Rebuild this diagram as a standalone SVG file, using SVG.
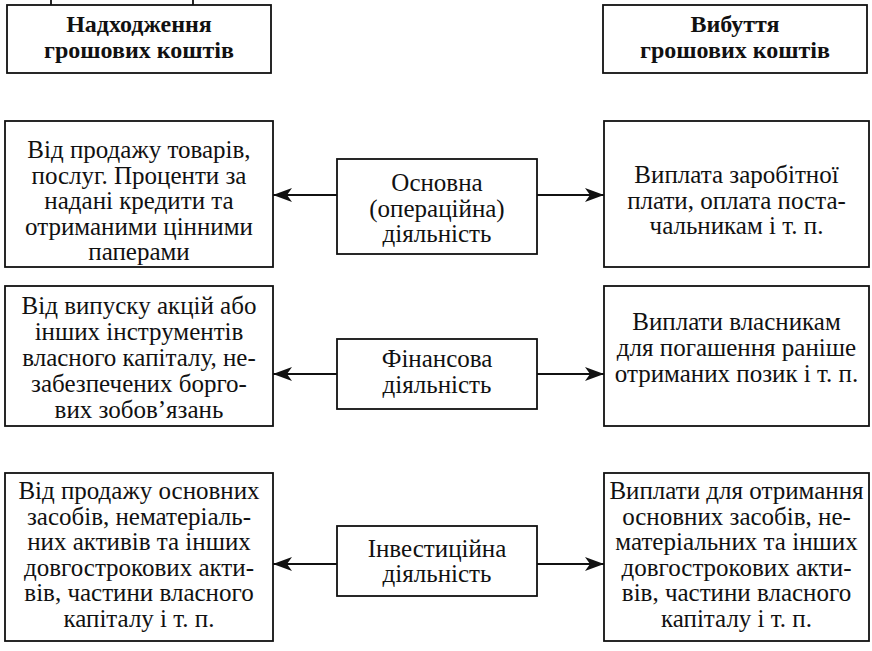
<svg xmlns="http://www.w3.org/2000/svg" width="872" height="651" viewBox="0 0 872 651">
<defs>
<marker id="ah" viewBox="0 0 19 14" refX="19" refY="7" markerWidth="19" markerHeight="14" markerUnits="userSpaceOnUse" orient="auto">
<path d="M0,0 L19,7 L0,14 L5,7 Z" fill="#111"/>
</marker>
<style>
rect{fill:#fff;stroke:#111;stroke-width:1.8}
text{font-size:25px;fill:#111;text-anchor:middle}
.h{font-weight:bold;font-size:24px}
.c line{stroke:#111;stroke-width:1.8}
</style>
</defs>
<rect width="872" height="651" style="stroke:none"/>
<g id="top-lines" class="c">
<line x1="51" y1="0" x2="51" y2="5"/>
<line x1="193" y1="0" x2="193" y2="5"/>
</g>
<g font-family="Liberation Serif, Times New Roman, DejaVu Serif, serif">
<g id="h-in">
<rect x="7" y="5" width="264" height="68"/>
<text class="h" x="139" y="32">Надходження</text>
<text class="h" x="139" y="58">грошових коштів</text>
</g>
<g id="h-out">
<rect x="603" y="5" width="264" height="68"/>
<text class="h" x="735" y="32">Вибуття</text>
<text class="h" x="735" y="58">грошових коштів</text>
</g>
<g id="in1">
<rect x="5" y="121" width="268" height="146"/>
<text x="139" y="158">Від продажу товарів,</text>
<text x="139" y="183.5">послуг. Проценти за</text>
<text x="139" y="209">надані кредити та</text>
<text x="139" y="234.5">отриманими цінними</text>
<text x="139" y="260">паперами</text>
</g>
<g id="op">
<rect x="337" y="159" width="200" height="95"/>
<text x="437" y="191">Основна</text>
<text x="437" y="216.5">(операційна)</text>
<text x="437" y="242">діяльність</text>
</g>
<g id="out1">
<rect x="604" y="121" width="265" height="146"/>
<text x="736.5" y="183">Виплата заробітної</text>
<text x="736.5" y="208.5">плати, оплата поста-</text>
<text x="736.5" y="234">чальникам і т. п.</text>
</g>
<g id="in2">
<rect x="5" y="286" width="268" height="140"/>
<text x="139" y="314">Від випуску акцій або</text>
<text x="139" y="340">інших інструментів</text>
<text x="139" y="366">власного капіталу, не-</text>
<text x="139" y="392">забезпечених борго-</text>
<text x="139" y="418">вих зобов’язань</text>
</g>
<g id="fin">
<rect x="337" y="339" width="200" height="70"/>
<text x="437" y="367">Фінансова</text>
<text x="437" y="393">діяльність</text>
</g>
<g id="out2">
<rect x="604" y="286" width="265" height="140"/>
<text x="736.5" y="330">Виплати власникам</text>
<text x="736.5" y="356">для погашення раніше</text>
<text x="736.5" y="382">отриманих позик і т. п.</text>
</g>
<g id="in3">
<rect x="5" y="473" width="268" height="168"/>
<text x="139" y="499">Від продажу основних</text>
<text x="139" y="524.5">засобів, нематеріаль-</text>
<text x="139" y="550">них активів та інших</text>
<text x="139" y="575.5">довгострокових акти-</text>
<text x="139" y="601">вів, частини власного</text>
<text x="139" y="626.5">капіталу і т. п.</text>
</g>
<g id="inv">
<rect x="337" y="526" width="200" height="70"/>
<text x="437" y="557">Інвестиційна</text>
<text x="437" y="582">діяльність</text>
</g>
<g id="out3">
<rect x="604" y="473" width="265" height="168"/>
<text x="736.5" y="499">Виплати для отримання</text>
<text x="736.5" y="524.5">основних засобів, не-</text>
<text x="736.5" y="550">матеріальних та інших</text>
<text x="736.5" y="575.5">довгострокових акти-</text>
<text x="736.5" y="601">вів, частини власного</text>
<text x="736.5" y="626.5">капіталу і т. п.</text>
</g>
</g>
<g id="connectors" class="c">
<line x1="337" y1="195" x2="273" y2="195" marker-end="url(#ah)"/>
<line x1="537" y1="195" x2="604" y2="195" marker-end="url(#ah)"/>
<line x1="337" y1="374" x2="273" y2="374" marker-end="url(#ah)"/>
<line x1="537" y1="374" x2="604" y2="374" marker-end="url(#ah)"/>
<line x1="337" y1="564" x2="273" y2="564" marker-end="url(#ah)"/>
<line x1="537" y1="564" x2="604" y2="564" marker-end="url(#ah)"/>
</g>
</svg>
